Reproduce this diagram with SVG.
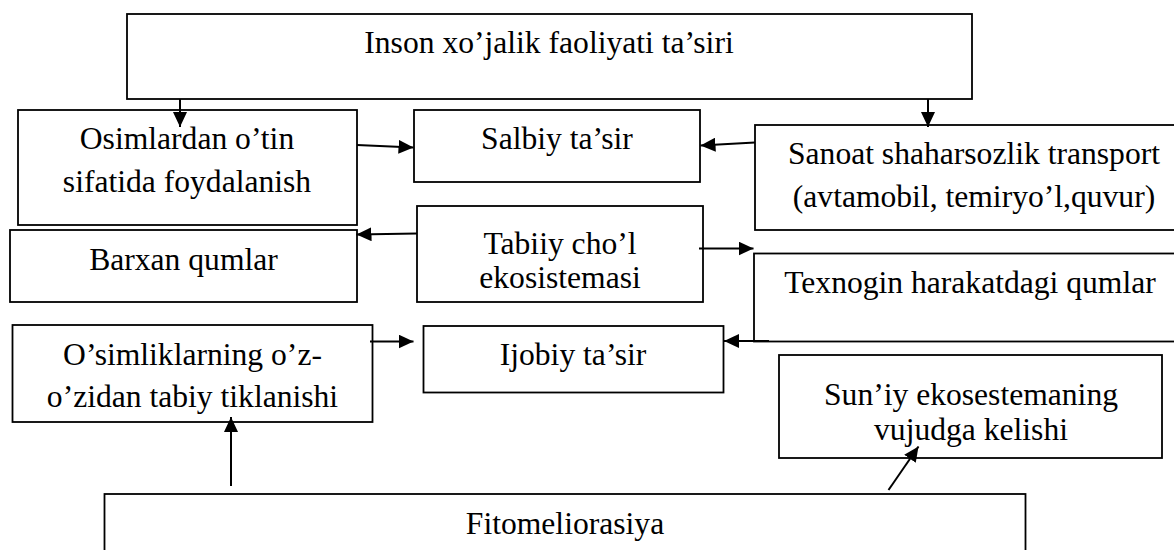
<svg xmlns="http://www.w3.org/2000/svg" width="1174" height="550" viewBox="0 0 1174 550">
<style>
.box{fill:#fff;stroke:#000;stroke-width:1.8}
.t{font-family:"Liberation Serif","Times New Roman",serif;font-size:31.6px;fill:#000;text-anchor:middle}
.c{stroke:#000;stroke-width:2;fill:none;marker-end:url(#ah)}
</style>
<defs>
<marker id="ah" markerUnits="userSpaceOnUse" markerWidth="16" markerHeight="14" refX="15" refY="7" orient="auto" viewBox="0 0 16 14">
<path d="M0,0 L15,7 L0,14 z" fill="#000"/>
</marker>
</defs>
<rect width="1174" height="550" fill="#fff"/>
<g id="n-inson"><rect class="box" x="127" y="14" width="845" height="85"/><text class="t" x="549" y="53">Inson xo’jalik faoliyati ta’siri</text></g>
<g id="n-osimlardan"><rect class="box" x="18" y="110" width="339" height="115"/><text class="t" x="187" y="149">Osimlardan o’tin</text><text class="t" x="187" y="191.5">sifatida foydalanish</text></g>
<g id="n-salbiy"><rect class="box" x="414" y="110" width="286" height="72"/><text class="t" x="557" y="149">Salbiy ta’sir</text></g>
<g id="n-sanoat"><rect class="box" x="755" y="125" width="440" height="105"/><text class="t" x="974" y="163.5">Sanoat shaharsozlik transport</text><text class="t" x="974" y="206.5">(avtamobil, temiryo’l,quvur)</text></g>
<g id="n-barxan"><rect class="box" x="10" y="230" width="347" height="72"/><text class="t" x="183.5" y="269.5">Barxan qumlar</text></g>
<g id="n-tabiiy"><rect class="box" x="417" y="206" width="286" height="96"/><text class="t" x="560" y="254">Tabiiy cho’l</text><text class="t" x="560" y="287.5">ekosistemasi</text></g>
<g id="n-texnogin"><rect class="box" x="754" y="253.5" width="440" height="88"/><text class="t" x="970" y="293">Texnogin harakatdagi qumlar</text></g>
<g id="n-osimliklar"><rect class="box" x="12.5" y="325" width="360" height="97"/><text class="t" x="192.5" y="365">O’simliklarning o’z-</text><text class="t" x="192.5" y="406.5">o’zidan tabiy tiklanishi</text></g>
<g id="n-ijobiy"><rect class="box" x="423.5" y="326" width="300" height="66.5"/><text class="t" x="573" y="365">Ijobiy ta’sir</text></g>
<g id="n-suniy"><rect class="box" x="779" y="355" width="383" height="103"/><text class="t" x="971" y="405">Sun’iy ekosestemaning</text><text class="t" x="971" y="439.5">vujudga kelishi</text></g>
<g id="n-fito"><rect class="box" x="104.5" y="494" width="921" height="80"/><text class="t" x="565" y="533.5">Fitomeliorasiya</text></g>
<g id="connectors">
<line class="c" x1="180" y1="99" x2="180" y2="127"/>
<line class="c" x1="928" y1="99" x2="928" y2="127"/>
<line class="c" x1="357" y1="145" x2="413.5" y2="147.5"/>
<line class="c" x1="755" y1="142.5" x2="700.5" y2="145.5"/>
<line class="c" x1="417" y1="233.5" x2="356.5" y2="234.5"/>
<line class="c" x1="699" y1="248.5" x2="753.5" y2="248.5"/>
<line class="c" x1="370" y1="341.5" x2="413.5" y2="341.5"/>
<line class="c" x1="769" y1="341" x2="724" y2="341"/>
<line class="c" x1="231" y1="486" x2="231" y2="417"/>
<line class="c" x1="888.5" y1="490" x2="918.5" y2="446.5"/>
</g>
</svg>
